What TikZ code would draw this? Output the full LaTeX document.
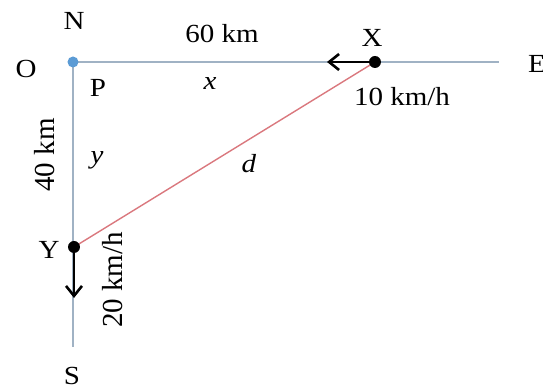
\documentclass[tikz,border=0pt]{standalone}
\usepackage{fontspec}
\setmainfont{Liberation Serif}
\usepackage{xcolor}
\definecolor{axisgray}{RGB}{160,178,196}
\definecolor{dotblue}{RGB}{91,155,213}
\definecolor{linered}{RGB}{218,120,126}
\usetikzlibrary{arrows.meta}

\begin{document}
\begin{tikzpicture}[x=0.5pt,y=-0.5pt,
  lbl/.style={font=\fontsize{14.5}{16}\selectfont,inner sep=0pt,yscale=0.9,transform shape},
  vlbl/.style={font=\fontsize{14.5}{16}\selectfont,inner sep=0pt,rotate=90},
  dot/.style={circle,fill=black,inner sep=0pt,minimum size=6pt},
  move/.style={-{Straight Barb[length=5pt,width=8pt]},line width=1.3pt}]
  \useasboundingbox (0,0) rectangle (543,390);
  % Points
  \coordinate (o) at (73,62);
  \coordinate (east) at (499,62);
  \coordinate (south) at (73,347);
  \coordinate (px) at (375,62);
  \coordinate (py) at (74,247);
  \coordinate (xtip) at (327,62);
  \coordinate (ytip) at (74,298);
  % Axes
  \draw[axisgray,line width=0.9pt] (o) -- (east);
  \draw[axisgray,line width=0.9pt] (o) -- (south);
  % Distance d
  \draw[linered,line width=0.7pt] (py) -- (px);
  % Velocities
  \draw[move] (px) -- (xtip);
  \draw[move] (py) -- (ytip);
  % Dots
  \node[dot,fill=dotblue,minimum size=5.5pt] (O) at (o) {};
  \node[dot] (X) at (px) {};
  \node[dot] (Y) at (py) {};
  % Compass labels
  \node[lbl] (N) at (74,21) {N};
  \node[lbl] (Olbl) at (26,69) {O};
  \node[lbl] (E) at (537,64) {E};
  \node[lbl] (S) at (72,376) {S};
  \node[lbl] (P) at (98,88) {P};
  \node[lbl] (Xlbl) at (372,38) {X};
  \node[lbl] (Ylbl) at (49,250) {Y};
  % Distances and speeds
  \node[lbl] (dist60) at (222,34) {60 km};
  \node[lbl] (speed10) at (402,97) {10 km/h};
  \node[vlbl] (dist40) at (45,155) {40 km};
  \node[vlbl] (speed20) at (113,280) {20 km/h};
  % Variables
  \node[lbl] (xvar) at (210,84) {\textit{x}};
  \node[lbl] (yvar) at (97,160) {\textit{y}};
  \node[lbl] (dvar) at (249,164) {\textit{d}};
\end{tikzpicture}
\end{document}
